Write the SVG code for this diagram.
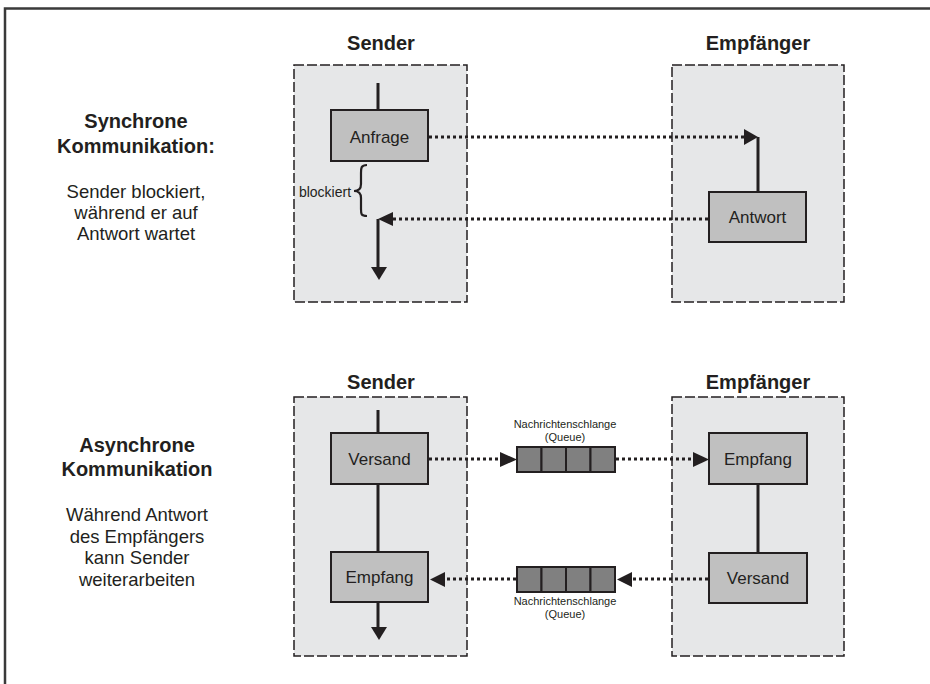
<svg xmlns="http://www.w3.org/2000/svg" width="930" height="684" viewBox="0 0 930 684">
<defs>
<style>
text{font-family:"Liberation Sans",Arial,sans-serif;fill:#231f20}
.hd{font-size:20px;font-weight:bold;text-anchor:middle}
.side{font-size:18.5px;text-anchor:middle}
.lbl{font-size:17px;text-anchor:middle}
.q{font-size:11px;text-anchor:middle}
.bl{font-size:14px;text-anchor:middle}
.area{fill:#e6e7e8;stroke:#231f20;stroke-width:1.5;stroke-dasharray:10,3}
.node{fill:#c0c0c0;stroke:#231f20;stroke-width:2}
.cell{fill:#808080;stroke:#231f20;stroke-width:2}
.solid{stroke:#231f20;stroke-width:3;fill:none}
.dot{stroke:#231f20;stroke-width:3;stroke-dasharray:3,3;fill:none}
.head{fill:#231f20}
</style>
</defs>
<rect width="930" height="684" fill="#ffffff"/>
<path d="M5,700 V8.5 H940" fill="none" stroke="#3a3a3a" stroke-width="2.5"/>

<g id="sync-labels">
<text class="hd" x="136" y="128">Synchrone</text>
<text class="hd" x="136" y="153">Kommunikation:</text>
<text class="side" x="136" y="198">Sender blockiert,</text>
<text class="side" x="136" y="219">während er auf</text>
<text class="side" x="136" y="240">Antwort wartet</text>
</g>
<g id="async-labels">
<text class="hd" x="137" y="452">Asynchrone</text>
<text class="hd" x="137" y="476">Kommunikation</text>
<text class="side" x="137" y="521">Während Antwort</text>
<text class="side" x="137" y="543">des Empfängers</text>
<text class="side" x="137" y="564">kann Sender</text>
<text class="side" x="137" y="586">weiterarbeiten</text>
</g>

<g id="sync-sender">
<text class="hd" x="381" y="50">Sender</text>
<rect class="area" x="294" y="65" width="173" height="237"/>
</g>
<g id="sync-empfaenger">
<text class="hd" x="758" y="50">Empfänger</text>
<rect class="area" x="672" y="65" width="172" height="237"/>
</g>
<g id="async-sender">
<text class="hd" x="381" y="389">Sender</text>
<rect class="area" x="294" y="397" width="173" height="259"/>
</g>
<g id="async-empfaenger">
<text class="hd" x="758" y="389">Empfänger</text>
<rect class="area" x="672" y="397" width="172" height="259"/>
</g>

<g id="connectors">
<line class="solid" x1="378" y1="83" x2="378" y2="110"/>
<line class="solid" x1="378" y1="219" x2="378" y2="268"/>
<polygon class="head" points="371,267 387,267 379,280"/>
<path d="M367,165 C361,165 361,168 361,173 L361,184 C361,189 359,191 354,191 C359,191 361,193 361,198 L361,209 C361,214 361,216 367,216" fill="none" stroke="#231f20" stroke-width="2.2"/>
<line class="dot" x1="429" y1="137" x2="745" y2="137"/>
<polygon class="head" points="744,129 744,145 758,137"/>
<line class="solid" x1="758" y1="137" x2="758" y2="192"/>
<line class="dot" x1="708" y1="219" x2="392" y2="219"/>
<polygon class="head" points="393,212 393,226 378,219"/>

<line class="solid" x1="378" y1="410" x2="378" y2="433"/>
<line class="solid" x1="378" y1="484" x2="378" y2="552"/>
<line class="solid" x1="378" y1="602" x2="378" y2="628"/>
<polygon class="head" points="371,627 387,627 379,640"/>
<line class="solid" x1="758" y1="484" x2="758" y2="553"/>
<line class="dot" x1="429" y1="459" x2="501" y2="459"/>
<polygon class="head" points="500,452 500,467 517,459.5"/>
<line class="dot" x1="616" y1="459" x2="694" y2="459"/>
<polygon class="head" points="693,452 693,467 709,459.5"/>
<line class="dot" x1="708" y1="579" x2="631" y2="579"/>
<polygon class="head" points="632,572 632,587 617,579.5"/>
<line class="dot" x1="516" y1="579" x2="444" y2="579"/>
<polygon class="head" points="445,572 445,587 430,579.5"/>
</g>

<g id="anfrage"><rect class="node" x="331" y="110" width="97" height="51"/><text class="lbl" x="379.5" y="143">Anfrage</text></g>
<g id="antwort"><rect class="node" x="709" y="192" width="97" height="50"/><text class="lbl" x="757.5" y="223">Antwort</text></g>
<g id="versand-sender"><rect class="node" x="331" y="433" width="97" height="51"/><text class="lbl" x="379.5" y="465">Versand</text></g>
<g id="empfang-sender"><rect class="node" x="331" y="552" width="97" height="50"/><text class="lbl" x="379.5" y="583">Empfang</text></g>
<g id="empfang-empf"><rect class="node" x="709" y="433" width="98" height="51"/><text class="lbl" x="758" y="465">Empfang</text></g>
<g id="versand-empf"><rect class="node" x="709" y="553" width="98" height="50"/><text class="lbl" x="758" y="584">Versand</text></g>

<g id="queue-top">
<text class="q" x="565" y="428">Nachrichtenschlange</text>
<text class="q" x="565" y="441">(Queue)</text>
<rect class="cell" x="517" y="447" width="24.5" height="25"/>
<rect class="cell" x="541.5" y="447" width="24.5" height="25"/>
<rect class="cell" x="566" y="447" width="24.5" height="25"/>
<rect class="cell" x="590.5" y="447" width="24.5" height="25"/>
</g>
<g id="queue-bottom">
<rect class="cell" x="517" y="567" width="24.5" height="25"/>
<rect class="cell" x="541.5" y="567" width="24.5" height="25"/>
<rect class="cell" x="566" y="567" width="24.5" height="25"/>
<rect class="cell" x="590.5" y="567" width="24.5" height="25"/>
<text class="q" x="565" y="605">Nachrichtenschlange</text>
<text class="q" x="565" y="618">(Queue)</text>
</g>
<g id="blockiert-label"><text class="bl" x="325" y="197">blockiert</text></g>
</svg>
